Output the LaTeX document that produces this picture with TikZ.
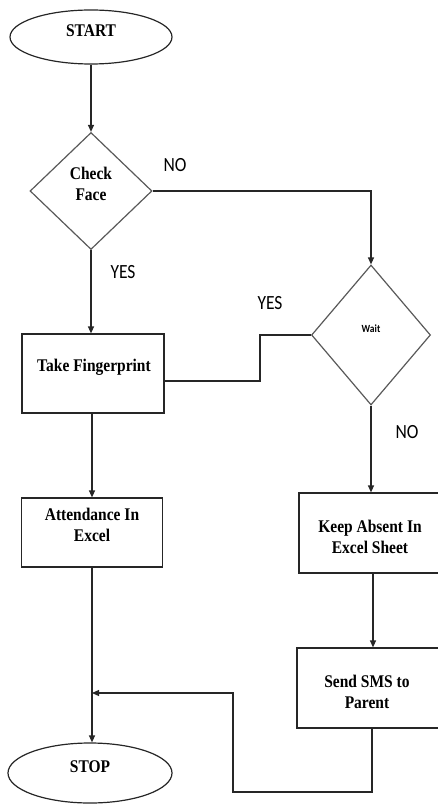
\documentclass[tikz,border=0pt]{standalone}
\usepackage{fontspec}
\usepackage{graphicx}
\setmainfont{Liberation Serif}
\newfontfamily\labfont{Carlito}
\usetikzlibrary{shapes.geometric,arrows.meta}
\newcommand\stx[1]{\scalebox{1}[1.15]{#1}}
\begin{document}
\begin{tikzpicture}[x=1pt,y=-1pt,
  shp/.style={draw=black!85, line width=1.2pt, inner sep=0pt},
  term/.style={shp, ellipse},
  dec/.style={shp, diamond, draw=black!65},
  proc/.style={shp, rectangle},
  txt/.style={font=\fontsize{15.5}{21}\selectfont\bfseries, align=center, text=black, inner sep=0pt},
  lab/.style={font=\labfont\fontsize{17.5}{20}\selectfont, inner sep=0pt},
  conn/.style={draw=black!85, line width=1.2pt},
  arr/.style={conn, -{Triangle[length=7pt,width=6pt]}},
]
\useasboundingbox (0,0) rectangle (438,805);
\clip (0,0) rectangle (438,805);

% shapes
\node[term, minimum width=162pt, minimum height=54pt] (start) at (91,37) {};
\node[dec, minimum width=122pt, minimum height=117pt] (cf) at (91,191) {};
\node[dec, minimum width=119pt, minimum height=140pt] (wait) at (371,335) {};
\node[proc, minimum width=142pt, minimum height=79pt] (tf) at (93,373.5) {};
\node[proc, minimum width=141pt, minimum height=69pt] (att) at (92,532.5) {};
\node[proc, minimum width=142pt, minimum height=80pt] (ka) at (370,533) {};
\node[proc, minimum width=142pt, minimum height=80pt] (sms) at (368,688) {};
\node[term, minimum width=164pt, minimum height=60pt] (stop) at (90,773) {};

% texts
\node[txt] (tstart) at (91,31) {\stx{START}};
\node[txt] (tcf) at (91,184) {\stx{Check}\\\stx{Face}};
\node[font=\labfont\bfseries\fontsize{9.5}{11}\selectfont, inner sep=0pt] (twait) at (371,329) {\stx{Wait}};
\node[txt] (ttf) at (94,367) {\stx{Take Fingerprint}};
\node[txt] (tatt) at (92,525) {\stx{Attendance In}\\\stx{Excel}};
\node[txt] (tka) at (370,537) {\stx{Keep Absent In}\\\stx{Excel Sheet}};
\node[txt] (tsms) at (367,691.5) {\stx{Send SMS to}\\\stx{Parent}};
\node[txt] (tstop) at (90,767) {\stx{STOP}};

% labels
\node[lab] (no1) at (175,165) {\stx{NO}};
\node[lab] (yes1) at (123,272) {\stx{YES}};
\node[lab] (yes2) at (270,303) {\stx{YES}};
\node[lab] (no2) at (407,432) {\stx{NO}};

% connectors
\coordinate (j1) at (260,381);
\coordinate (c1) at (233,792);
\coordinate (m) at (92,693);

\draw[arr] (start) -- (cf);
\draw[arr] (cf.east) -| (wait.north);
\draw[arr] (cf.south) -- (cf.south |- tf.north);
\draw[conn] (wait.west) -| (j1) -- (j1 -| tf.east);
\draw[arr] (tf.south -| att.south) -- (att.north);
\draw[arr] (wait.south) -- (wait.south |- ka.north);
\draw[arr] ([xshift=3pt]ka.south) -- ([xshift=3pt]ka.south |- sms.north);
\draw[arr] (att.south) -- (att.south |- stop.north);
\draw[arr] ([xshift=4pt]sms.south) |- (c1) |- (m);
\end{tikzpicture}
\end{document}
